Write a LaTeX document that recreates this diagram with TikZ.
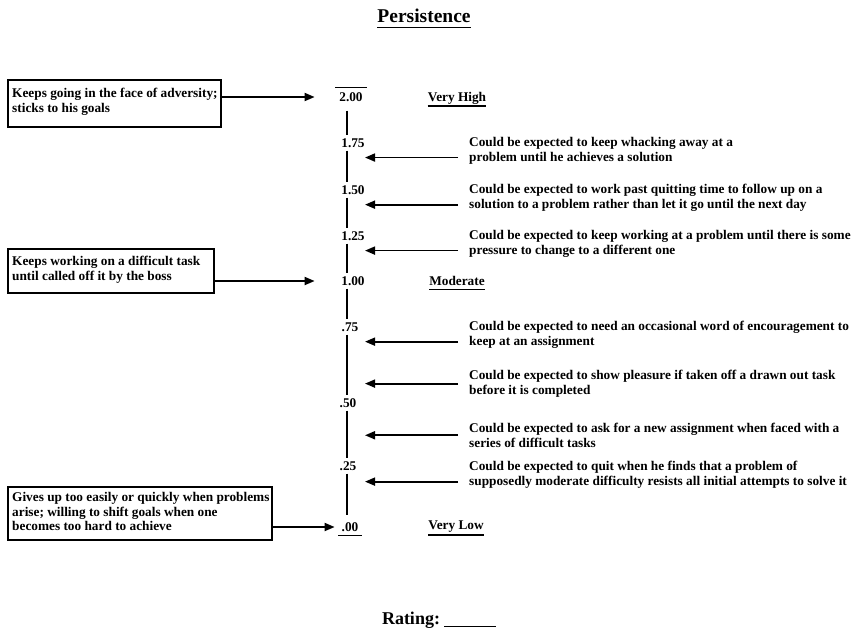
\documentclass[tikz,border=0pt]{standalone}
\usepackage{fontspec}
\setmainfont{Liberation Serif}
\usetikzlibrary{arrows.meta}
\begin{document}
\begin{tikzpicture}[x=1pt,y=-1pt,
  txt/.style={font=\fontsize{13.3}{14.6}\selectfont\bfseries, inner sep=0pt, align=left, anchor=north west},
  lbl/.style={font=\fontsize{13.3}{14}\selectfont\bfseries, inner sep=3pt},
  head/.style={font=\fontsize{13.3}{14}\selectfont\bfseries, inner sep=0pt},
  lbox/.style={draw, line width=1.6pt, anchor=north west, inner sep=0pt},
  axisline/.style={line width=1.7pt},
  rule/.style={line width=1.5pt},
  arr/.style={line width=1.8pt, -{Triangle[length=10pt,width=8pt]}}]
\path[use as bounding box] (0,0) rectangle (853,633);

% title
\node[font=\fontsize{19.5}{22}\selectfont\bfseries, inner sep=0pt] (title) at (424,16) {Persistence};
\draw[rule] ([yshift=-5pt]title.base west) -- ([yshift=-5pt]title.base east);

% scale labels
\coordinate (axis) at (347,0);
\node[lbl] (s200) at (351,97) {2.00};
\node[lbl] (s175) at (353,143) {1.75};
\node[lbl] (s150) at (353,190) {1.50};
\node[lbl] (s125) at (353,236) {1.25};
\node[lbl] (s100) at (353,281) {1.00};
\node[lbl] (s75) at (350,327) {.75};
\node[lbl] (s50) at (348,403) {.50};
\node[lbl] (s25) at (348,466) {.25};
\node[lbl] (s00) at (350,527) {.00};
\draw[rule] ([xshift=-1pt,yshift=2pt]s200.north west) -- ([xshift=1pt,yshift=2pt]s200.north east);
\draw[rule] ([yshift=-1pt]s00.south west) -- ([yshift=-1pt]s00.south east);

\node[head] (vh) at (457,98) {Very High};
\node[head] (mod) at (457,281) {Moderate};
\node[head] (vl) at (456,527) {Very Low};
\draw[rule] ([yshift=-5pt]vh.base west) -- ([yshift=-5pt]vh.base east);
\draw[rule] ([yshift=-4pt]mod.base west) -- ([yshift=-4pt]mod.base east);
\draw[rule] ([yshift=-5pt]vl.base west) -- ([yshift=-5pt]vl.base east);

% axis segments
\draw[axisline] ([yshift=-6pt]axis |- s200.south) -- (axis |- s175.north);
\draw[axisline] (axis |- s175.south) -- (axis |- s150.north);
\draw[axisline] (axis |- s150.south) -- (axis |- s125.north);
\draw[axisline] (axis |- s125.south) -- (axis |- s100.north);
\draw[axisline] (axis |- s100.south) -- (axis |- s75.north);
\draw[axisline] (axis |- s75.south) -- (axis |- s50.north);
\draw[axisline] (axis |- s50.south) -- (axis |- s25.north);
\draw[axisline] (axis |- s25.south) -- ([yshift=4pt]axis |- s00.north);

% left boxes
\node[lbox, minimum width=213pt, minimum height=47pt] (b1) at (7,79) {};
\node[txt] (t1) at (12,88) {Keeps going in the face of adversity;\\sticks to his goals};
\node[lbox, minimum width=206pt, minimum height=44pt] (b2) at (7,248) {};
\node[txt] (t2) at (12,256) {Keeps working on a difficult task\\until called off it by the boss};
\node[lbox, minimum width=264pt, minimum height=53pt] (b3) at (7,486) {};
\node[txt] (t3) at (12,492) {Gives up too easily or quickly when problems\\arise; willing to shift goals when one\\becomes too hard to achieve};

\draw[arr] (b1.east |- s200) -- ++(93,0);
\draw[arr] (b2.east |- s100) -- ++(100,0);
\draw[arr] (b3.east |- s00) -- ++(62,0);

% right descriptions
\node[txt] (r1) at (469,137) {Could be expected to keep whacking away at a\\problem until he achieves a solution};
\node[txt] (r2) at (469,184) {Could be expected to work past quitting time to follow up on a\\solution to a problem rather than let it go until the next day};
\node[txt] (r3) at (469,230) {Could be expected to keep working at a problem until there is some\\pressure to change to a different one};
\node[txt] (r4) at (469,321) {Could be expected to need an occasional word of encouragement to\\keep at an assignment};
\node[txt] (r5) at (469,370) {Could be expected to show pleasure if taken off a drawn out task\\before it is completed};
\node[txt] (r6) at (469,423) {Could be expected to ask for a new assignment when faced with a\\series of difficult tasks};
\node[txt] (r7) at (469,461) {Could be expected to quit when he finds that a problem of\\supposedly moderate difficulty resists all initial attempts to solve it};

\draw[arr] ([xshift=-11pt,yshift=-7pt]r1.west) -- ++(-93,0);
\draw[arr] ([xshift=-11pt,yshift=-7pt]r2.west) -- ++(-93,0);
\draw[arr] ([xshift=-11pt,yshift=-7pt]r3.west) -- ++(-93,0);
\draw[arr] ([xshift=-11pt,yshift=-7pt]r4.west) -- ++(-93,0);
\draw[arr] ([xshift=-11pt]r5.west) -- ++(-93,0);
\draw[arr] ([xshift=-11pt]r6.west) -- ++(-93,0);
\draw[arr] ([xshift=-11pt,yshift=-7pt]r7.west) -- ++(-93,0);

% rating
\node[font=\fontsize{18}{20}\selectfont\bfseries, inner sep=0pt] (rating) at (411,620) {Rating:};
\draw[rule] ([xshift=4pt,yshift=-2pt]rating.base east) -- ++(52,0);
\end{tikzpicture}
\end{document}
